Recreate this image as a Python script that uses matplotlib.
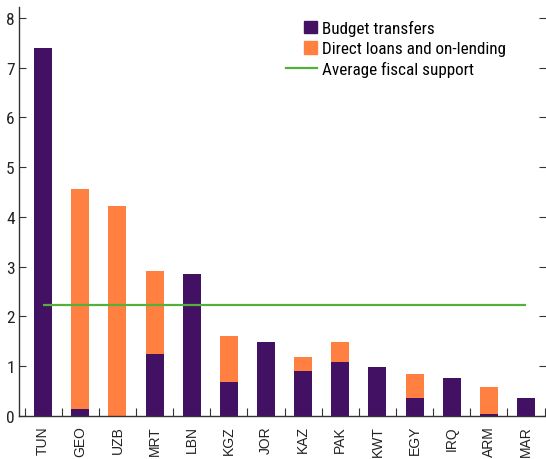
import matplotlib
matplotlib.use("Agg")
import matplotlib.pyplot as plt
import numpy as np
from matplotlib.patches import Rectangle
from matplotlib.lines import Line2D
from matplotlib.legend_handler import HandlerPatch
from matplotlib.ticker import FixedLocator

plt.rcParams['font.family'] = ['Roboto Condensed', 'DejaVu Sans']

# data
countries = ["TUN", "GEO", "UZB", "MRT", "LBN", "KGZ", "JOR",
             "KAZ", "PAK", "KWT", "EGY", "IRQ", "ARM", "MAR"]
budget = [7.40, 0.14, 0.00, 1.25, 2.85, 0.68, 1.49,
          0.90, 1.09, 0.99, 0.36, 0.76, 0.04, 0.36]
loans = [0.00, 4.42, 4.22, 1.66, 0.00, 0.93, 0.00,
         0.29, 0.40, 0.00, 0.48, 0.00, 0.54, 0.00]
avg_support = 2.23

purple = "#431164"
orange = "#FF8040"
green = "#55B03A"
axcol = "#333333"

fig = plt.figure(figsize=(5.46, 4.60), dpi=100)
ax = fig.add_axes([19/546, 43/460, 527/546, 409/460])

x = np.arange(len(countries))
ax.bar(x, budget, width=0.485, color=purple, label="Budget transfers")
ax.bar(x, loans, width=0.485, bottom=budget, color=orange,
       label="Direct loans and on-lending")
ax.hlines(avg_support, x[0], x[-1], color=green, lw=1.6,
          label="Average fiscal support")

ax.set_xlim(-0.65, len(countries) - 0.46)
ax.set_ylim(0, 8.22)

ax.set_yticks(range(0, 9))
ax.tick_params(axis="y", direction="in", length=5, width=0.8, color=axcol,
               labelsize=12.5, pad=3, right=True, labelcolor="#222222")
ax.set_xticks(x)
ax.set_xticklabels(countries, rotation=90, fontsize=10, color="#222222",
                   family=["Liberation Sans", "DejaVu Sans"])
ax.tick_params(axis="x", which="major", length=0, pad=6.5)
ax.xaxis.set_minor_locator(FixedLocator(np.append(x - 0.5, x[-1] + 0.5)))
ax.tick_params(axis="x", which="minor", direction="in", length=6,
               width=0.8, color=axcol)

for s in ["top", "right"]:
    ax.spines[s].set_visible(False)
for s in ["left", "bottom"]:
    ax.spines[s].set_color(axcol)
    ax.spines[s].set_linewidth(1.0)


def square(legend, orig_handle, xdescent, ydescent, width, height, fontsize):
    return Rectangle((width - height - xdescent, -ydescent), height, height)


handles = [Rectangle((0, 0), 1, 1, color=purple),
           Rectangle((0, 0), 1, 1, color=orange),
           Line2D([], [], color=green, lw=1.6)]
labels = ["Budget transfers", "Direct loans and on-lending",
          "Average fiscal support"]
ax.legend(handles, labels, loc="upper left",
          bbox_to_anchor=(286/546, 1 - 21/460), bbox_transform=fig.transFigure,
          frameon=False, fontsize=12.3,
          handlelength=1.8, handleheight=0.75, handletextpad=0.3,
          labelspacing=0.3, borderaxespad=0.0, borderpad=0.0,
          handler_map={Rectangle: HandlerPatch(patch_func=square)})

fig.savefig("out.png", dpi=100)
